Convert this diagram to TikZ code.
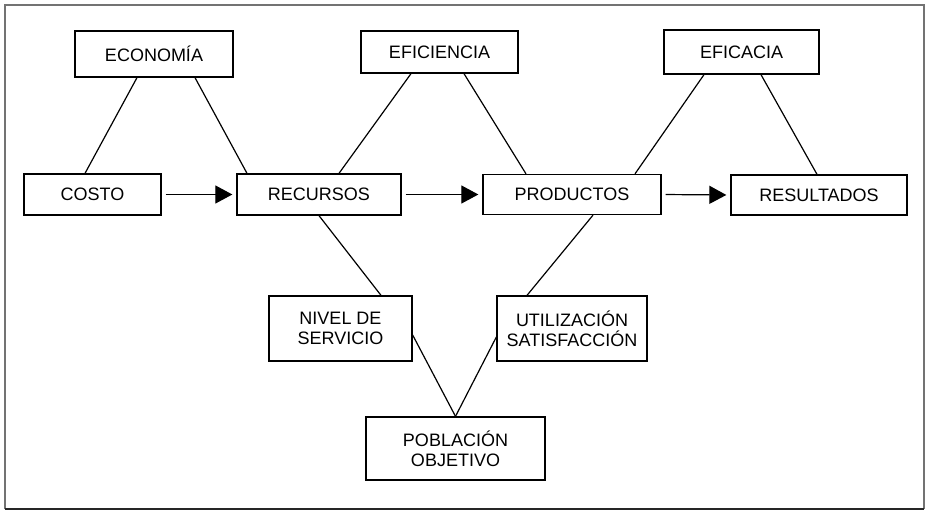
\documentclass[tikz,border=0pt]{standalone}
\usepackage{fontspec}
\setmainfont{Liberation Sans}
\usetikzlibrary{arrows.meta}
\begin{document}
\begin{tikzpicture}[x=1pt,y=-1pt,
  box/.style={draw,line width=1.3pt,inner sep=0pt,align=center,
    font=\fontsize{18}{20}\selectfont},
  link/.style={line width=1.2pt},
  flow/.style={line width=1.2pt,-{Triangle[length=17pt,width=18pt]},shorten <=4pt,shorten >=4pt}]
\useasboundingbox (0,0) rectangle (929,514);
\draw[line width=2pt,black!55] (5,509) -- (5,5) -- (924,5) -- (924,509);
\draw[line width=2pt,black!85] (5,509) -- (924,509);
\node[box,minimum width=158pt,minimum height=46pt] (eco) at (154,54) {ECONOMÍA};
\node[box,minimum width=157pt,minimum height=42pt] (efi) at (439.5,52) {EFICIENCIA};
\node[box,minimum width=155pt,minimum height=44pt] (efa) at (741.5,52) {EFICACIA};
\node[box,minimum width=137pt,minimum height=41pt] (cos) at (92.5,194.5) {COSTO};
\node[box,minimum width=164pt,minimum height=41pt] (rec) at (319,194.5) {RECURSOS};
\node[box,minimum width=178pt,minimum height=40pt] (pro) at (572,194.5) {PRODUCTOS};
\node[box,minimum width=176pt,minimum height=40pt] (res) at (819,195) {RESULTADOS};
\node[box,minimum width=143pt,minimum height=65pt] (niv) at (340.5,328.5) {NIVEL DE\\SERVICIO};
\node[box,minimum width=150pt,minimum height=65pt] (uti) at (572,328.5) {UTILIZACIÓN\\SATISFACCIÓN};
\node[box,minimum width=179pt,minimum height=63pt] (pob) at (455.5,448.5) {POBLACIÓN\\OBJETIVO};
% triangles
\draw[link] ([xshift=-17pt]eco.south) -- ([xshift=-7.5pt]cos.north);
\draw[link] ([xshift=41pt]eco.south) -- ([xshift=-72pt]rec.north);
\draw[link] ([xshift=-28.5pt]efi.south) -- ([xshift=20pt]rec.north);
\draw[link] ([xshift=24.5pt]efi.south) -- ([xshift=-46pt]pro.north);
\draw[link] ([xshift=-37.5pt]efa.south) -- ([xshift=63pt]pro.north);
\draw[link] ([xshift=19.5pt]efa.south) -- ([xshift=-2pt]res.north);
\draw[link] (rec.south) -- ([xshift=40.5pt]niv.north);
\draw[link] ([xshift=21pt]pro.south) -- ([xshift=-45pt]uti.north);
\draw[link] ([yshift=-6.5pt]niv.east) -- (pob.north);
\draw[link] ([yshift=-8.5pt]uti.west) -- (pob.north);
% flow arrows
\draw[flow] (cos.east) -- (rec.west);
\draw[flow] (rec.east) -- (pro.west);
\draw[flow] (pro.east) -- (res.west);
\end{tikzpicture}
\end{document}
